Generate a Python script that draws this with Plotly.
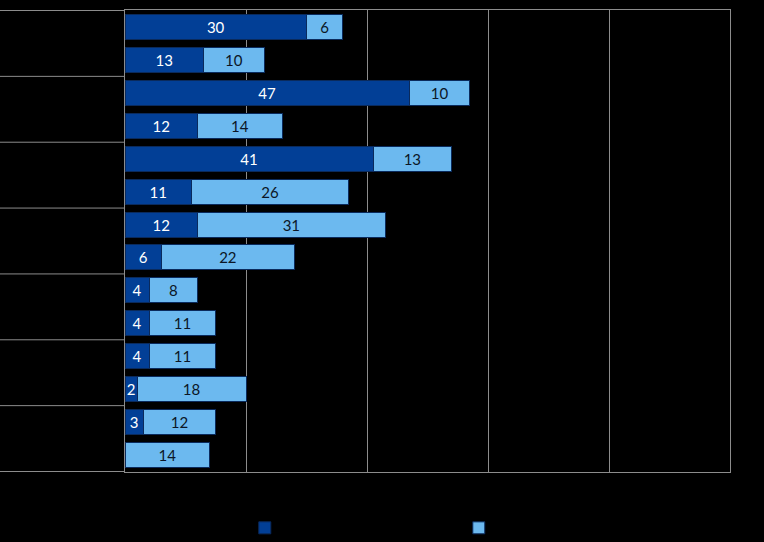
import plotly.graph_objects as go

categories = ["G1 a", "G1 b", "G2 a", "G2 b", "G3 a", "G3 b", "G4 a", "G4 b",
              "G5 a", "G5 b", "G6 a", "G6 b", "G7 a", "G7 b"]
dark_vals = [30, 13, 47, 12, 41, 11, 12, 6, 4, 4, 4, 2, 3, 0]
light_vals = [6, 10, 10, 14, 13, 26, 31, 22, 8, 11, 11, 18, 12, 14]
x_ticks = [0, 20, 40, 60, 80, 100]

dark = "#023F96"
light = "#6CB9EF"
edge = "#0A2A5C"
grid = "#8C8C8C"
font = "Lato"

fig = go.Figure()
fig.add_trace(go.Bar(
    y=categories, x=dark_vals, orientation="h", name="Serie 1",
    marker=dict(color=dark, line=dict(color=edge, width=1)),
    text=[str(v) if v else "" for v in dark_vals],
    textposition="inside", insidetextanchor="middle", textangle=0,
    constraintext="none",
    textfont=dict(color="white", size=15, family=font),
))
fig.add_trace(go.Bar(
    y=categories, x=light_vals, orientation="h", name="Serie 2",
    marker=dict(color=light, line=dict(color=edge, width=1)),
    text=[str(v) for v in light_vals],
    textposition="inside", insidetextanchor="middle", textangle=0,
    constraintext="none",
    textfont=dict(color="#0B1626", size=15, family=font),
))

# group separators on the left, outside the plot area
for k in range(0, len(categories) + 1, 2):
    fig.add_shape(type="line", xref="paper", yref="y",
                  x0=-125 / 605, x1=0, y0=k - 0.5, y1=k - 0.5,
                  line=dict(color=grid, width=1))

fig.update_layout(
    barmode="stack",
    bargap=0.24,
    width=764, height=542,
    margin=dict(l=125, r=34, t=10, b=70, autoexpand=False),
    paper_bgcolor="black", plot_bgcolor="black",
    font=dict(family=font, color="black"),
    showlegend=True,
    legend=dict(orientation="h", x=0.198, xanchor="left", y=-0.0885, yanchor="top",
                entrywidth=169, entrywidthmode="pixels",
                font=dict(color="black", size=13), traceorder="normal",
                bgcolor="rgba(0,0,0,0)"),
)
fig.update_xaxes(range=[0, 100], tickvals=x_ticks, showticklabels=False,
                 showgrid=True, gridcolor=grid, gridwidth=1, zeroline=False,
                 showline=True, linecolor=grid, linewidth=1, mirror=True)
fig.update_yaxes(autorange="reversed", showticklabels=False, showgrid=False,
                 showline=True, linecolor=grid, linewidth=1, mirror=True,
                 categoryorder="array", categoryarray=categories)

fig.write_html("out.html", config={"displayModeBar": False},
               post_script="document.body.style.margin='0';document.body.style.background='black';")
